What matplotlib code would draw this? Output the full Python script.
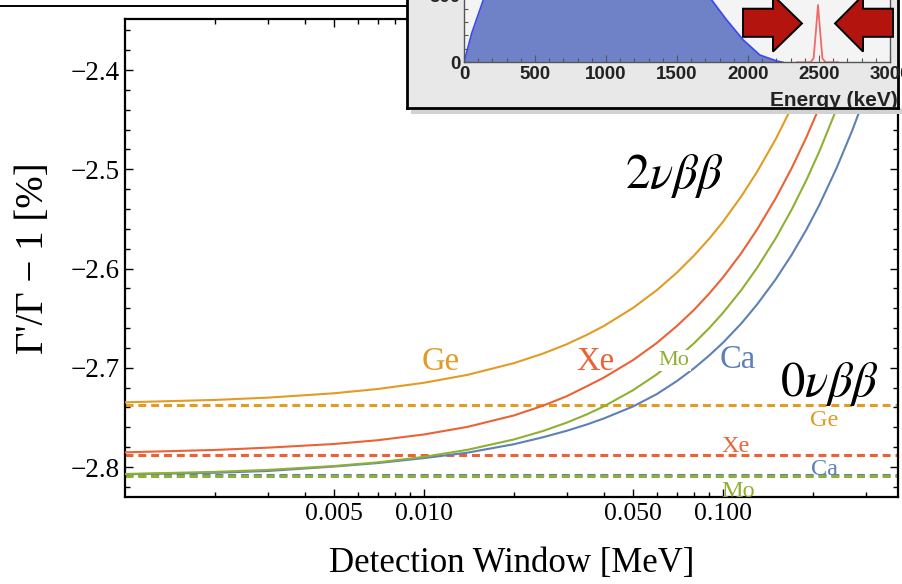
"""
Γ'/Γ − 1 against the detection window for Ge, Xe, Mo and Ca:
2νββ as solid curves, 0νββ as dashed levels, with the spectrum inset on top.
"""
import matplotlib

matplotlib.use("Agg")
import matplotlib.pyplot as plt  # noqa: E402
from matplotlib.lines import Line2D  # noqa: E402
from matplotlib.patches import Polygon, Rectangle  # noqa: E402
from matplotlib.ticker import (FixedLocator, FuncFormatter,  # noqa: E402
                               MultipleLocator, NullFormatter)

plt.rcParams["font.family"] = ["Liberation Serif", "DejaVu Serif"]
plt.rcParams["mathtext.fontset"] = "stix"

# detection window [MeV]; each curve runs until it goes under the inset
window_mev = [0.001, 0.002, 0.003, 0.005, 0.007, 0.01, 0.014, 0.02, 0.025, 0.03, 0.035, 0.04,
              0.05, 0.06, 0.07, 0.08, 0.09, 0.1, 0.115, 0.13, 0.15, 0.17, 0.19, 0.21, 0.24,
              0.27, 0.3, 0.33]

# 2νββ: Γ'/Γ-1 [%]
ge_y = [-2.7348, -2.7324, -2.7301, -2.7257, -2.7214, -2.7151, -2.7071, -2.6953, -2.6857,
        -2.6763, -2.6669, -2.6578, -2.6397, -2.6219, -2.6043, -2.5869, -2.5698, -2.5529,
        -2.5275, -2.5025, -2.4697, -2.4370, -2.4047, -2.3728]
xe_y = [-2.7852, -2.7828, -2.7805, -2.7768, -2.7730, -2.7672, -2.7595, -2.7480, -2.7382,
        -2.7287, -2.7187, -2.7098, -2.6923, -2.6751, -2.6581, -2.6416, -2.6251, -2.6089,
        -2.5847, -2.5606, -2.5293, -2.4984, -2.4678, -2.4374, -2.3921]
mo_y = [-2.8070, -2.8049, -2.8029, -2.7990, -2.7953, -2.7898, -2.7826, -2.7722, -2.7637,
        -2.7553, -2.7470, -2.7388, -2.7226, -2.7067, -2.6909, -2.6753, -2.6599, -2.6446,
        -2.6219, -2.5993, -2.5696, -2.5401, -2.5109, -2.4820, -2.4389, -2.3959]
ca_y = [-2.8073, -2.8058, -2.8040, -2.7995, -2.7960, -2.7910, -2.7855, -2.7770, -2.7700,
        -2.7635, -2.7572, -2.7510, -2.7390, -2.7266, -2.7135, -2.7005, -2.6875, -2.6747,
        -2.6555, -2.6362, -2.6109, -2.5858, -2.5608, -2.5359, -2.4985, -2.4615, -2.4248,
        -2.3882]

# 0νββ levels
zero_ge, zero_xe, zero_mo, zero_ca = -2.7375, -2.7877, -2.8086, -2.8080

# inset spectrum: energy [keV] -> counts
spec_e = [0, 54, 136, 300, 600, 900, 1200, 1500, 1650, 1744, 1850, 1967, 2084, 2202, 2246]
spec_n = [0, 216, 465, 640, 720, 730, 690, 600, 530, 465, 316, 166, 54, 10, 0]
peak_e = [2345, 2440, 2462, 2478, 2493, 2508, 2524, 2546, 2634]
peak_n = [0, 0, 30, 230, 428, 230, 30, 0, 0]
arrow_y = [190, 190, 80, 290, 500, 400, 400]
left_arrow_x = [1965, 2176, 2176, 2380, 2176, 2176, 1965]
right_arrow_x = [3021, 2810, 2810, 2613, 2810, 2810, 3021]

C_GE, C_XE, C_MO, C_CA = "#E19C24", "#EB6235", "#8FB032", "#5E81B5"

W, H = 902, 584


def fx(px):
    return px / W


def fy(py):
    return 1 - py / H


fig = plt.figure(figsize=(W / 100, H / 100), dpi=100)
ax = fig.add_axes([fx(125), fy(497), (897.5 - 125) / W, (497 - 19.3) / H])
ax.set_xscale("log")
ax.set_xlim(0.001, 0.3833)
ax.set_ylim(-2.8302, -2.3489)

# 0νββ (dashed)
dash = dict(lw=2.2, dashes=(2.6, 1.6), zorder=2)
ax.axhline(zero_ge, color=C_GE, **dash)
ax.axhline(zero_xe, color=C_XE, **dash)
ax.axhline(zero_ca, color=C_CA, **dash)
ax.axhline(zero_mo, color=C_MO, **dash)

# 2νββ (solid)
ax.plot(window_mev[:len(ge_y)], ge_y, color=C_GE, lw=1.5, zorder=3)
ax.plot(window_mev[:len(xe_y)], xe_y, color=C_XE, lw=1.5, zorder=3)
ax.plot(window_mev[:len(ca_y)], ca_y, color=C_CA, lw=1.5, zorder=3)
ax.plot(window_mev[:len(mo_y)], mo_y, color=C_MO, lw=1.5, zorder=3)

big = dict(fontsize=23.5, ha="center", va="baseline", zorder=5)
ax.text(0.0114, -2.7023, "Ge", color=C_GE, **big)
ax.text(0.0373, -2.7023, "Xe", color=C_XE, **big)
ax.text(0.1122, -2.7003, "Ca", color=C_CA, **big)
ax.text(0.0686, -2.6972, "Mo", color=C_MO, fontsize=16, ha="center", va="baseline", zorder=5,
        bbox=dict(facecolor="white", edgecolor="none", pad=1.0))

small = dict(fontsize=17.5, ha="center", va="baseline", zorder=5)
ax.text(0.2177, -2.7587, "Ge", color=C_GE, **small)
ax.text(0.1105, -2.7849, "Xe", color=C_XE, **small)
ax.text(0.2177, -2.8081, "Ca", color=C_CA, **small)
ax.text(0.1122, -2.8302, "Mo", color=C_MO, clip_on=False, **small)

ax.text(0.047, -2.5189, r"$2\nu\beta\beta$", fontsize=35, ha="left", va="baseline", zorder=5)
ax.text(0.155, -2.7285, r"$0\nu\beta\beta$", fontsize=35, ha="left", va="baseline", zorder=5)

ax.xaxis.set_major_locator(FixedLocator([0.005, 0.01, 0.05, 0.1]))
ax.xaxis.set_minor_locator(FixedLocator([0.002, 0.003, 0.004, 0.006, 0.007, 0.008, 0.009,
                                         0.02, 0.03, 0.04, 0.06, 0.07, 0.08, 0.09, 0.2, 0.3]))
ax.xaxis.set_major_formatter(FuncFormatter(lambda v, _: f"{v:.3f}"))
ax.xaxis.set_minor_formatter(NullFormatter())
ax.yaxis.set_major_locator(MultipleLocator(0.1))
ax.yaxis.set_minor_locator(MultipleLocator(0.02))
ax.yaxis.set_major_formatter(FuncFormatter(lambda v, _: f"{v:.1f}".replace("-", "\u2212")))
ax.tick_params(which="both", direction="in", top=True, right=True, width=1, color="black")
ax.tick_params(which="major", length=6)
ax.tick_params(which="minor", length=3.5)
ax.tick_params(axis="y", labelsize=19.5, pad=3.6)
ax.tick_params(axis="x", labelsize=18.5, pad=4)
for s in ax.spines.values():
    s.set_linewidth(1.6)

ax.set_ylabel("Γ'/Γ \u2212 1 [%]", fontsize=28)
ax.yaxis.set_label_coords(-0.0945, 0.5003)
ax.set_xlabel("Detection Window [MeV]", fontsize=25)
ax.xaxis.set_label_coords(0.501, -0.1047)

# slide line and inset frame
fig.add_artist(Line2D([0, fx(407)], [fy(5.5), fy(5.5)], color="black", lw=1.4, zorder=1))
fig.add_artist(Rectangle((fx(411), fy(114)), (902 - 411) / W, 6 / H, transform=fig.transFigure,
                         facecolor="#d2d2d2", edgecolor="none", zorder=4))
box = fig.add_axes([fx(407), fy(108), (898 - 407) / W, 140 / H], zorder=5)
box.set_facecolor("#E8E8E8")
box.set_xticks([])
box.set_yticks([])
for s in box.spines.values():
    s.set_linewidth(2)
    s.set_color("black")

ins = fig.add_axes([fx(464), fy(62.3), (890 - 464) / W, 67 / H], zorder=6)
ins.set_xlim(0, 3000)
ins.set_ylim(0, 500)
ins.set_facecolor("#F4F4F4")
ins.fill_between(spec_e, spec_n, color="#6F82C8", lw=0)
ins.plot(spec_e, spec_n, color="#3848F0", lw=1.2)
ins.plot(peak_e, peak_n, color="#F06A6A", lw=1.3)
for xs in (left_arrow_x, right_arrow_x):
    ins.add_patch(Polygon(list(zip(xs, arrow_y)), closed=True, facecolor="#B3150E",
                          edgecolor="black", lw=1.4, clip_on=False, zorder=5))

ins.spines["top"].set_visible(False)
for k in ("left", "bottom", "right"):
    ins.spines[k].set_color("#555555")
    ins.spines[k].set_linewidth(1)
sans = dict(fontfamily=["Liberation Sans", "DejaVu Sans"], fontweight="bold")
ins.set_xticks(range(0, 3001, 500), labels=[str(v) for v in range(0, 3001, 500)], **sans)
ins.set_yticks([0, 500], labels=["0", "500"], **sans)
ins.xaxis.set_minor_locator(MultipleLocator(100))
ins.yaxis.set_minor_locator(MultipleLocator(100))
ins.tick_params(which="both", direction="in", color="#555555", width=0.8,
                labelsize=13.5, labelcolor="#222222", pad=2.5)
ins.tick_params(which="major", length=5)
ins.tick_params(which="minor", length=3)

# the slide frame cuts this label at the bottom and right, as in the source
box.text(2155, -326, "Energy (keV)", transform=ins.transData, fontsize=15,
         color="#222222", clip_on=True, **sans)

fig.savefig("out.png", dpi=100)
plt.close(fig)
